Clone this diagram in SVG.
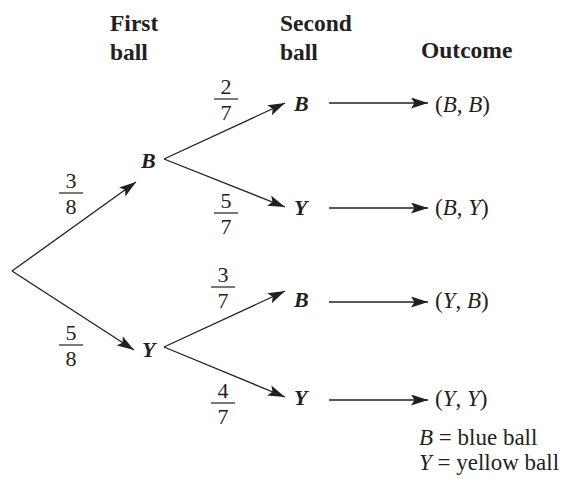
<svg xmlns="http://www.w3.org/2000/svg" width="564" height="479" viewBox="0 0 564 479">
<defs>
<style>
text{font-family:"Liberation Serif","Times New Roman",serif;fill:#231f20}
.h{font-weight:bold;font-size:23.5px}
.n{font-weight:bold;font-style:italic;font-size:22px}
.f{font-size:22px;text-anchor:middle}
.o{font-size:23px}
.l{fill:none;stroke:#231f20;stroke-width:1.3}
.bar{stroke:#231f20;stroke-width:1.2}
</style>
<marker id="ah" markerUnits="userSpaceOnUse" markerWidth="18" markerHeight="12" refX="17" refY="5.5" orient="auto">
<path d="M0,0 L17,5.5 L0,11 L3.5,5.5 z" fill="#231f20"/>
</marker>
</defs>
<g id="headers">
<text class="h" x="110" y="31">First</text>
<text class="h" x="110" y="60">ball</text>
<text class="h" x="280" y="31">Second</text>
<text class="h" x="280" y="60">ball</text>
<text class="h" x="421" y="58">Outcome</text>
</g>
<g id="connectors">
<line class="l" x1="12" y1="271" x2="136" y2="182" marker-end="url(#ah)"/>
<line class="l" x1="12" y1="271" x2="134" y2="350" marker-end="url(#ah)"/>
<line class="l" x1="164" y1="159" x2="285" y2="103" marker-end="url(#ah)"/>
<line class="l" x1="164" y1="159" x2="285" y2="207" marker-end="url(#ah)"/>
<line class="l" x1="164" y1="347" x2="285" y2="291" marker-end="url(#ah)"/>
<line class="l" x1="164" y1="347" x2="285" y2="397" marker-end="url(#ah)"/>
<line class="l" x1="329" y1="103" x2="428" y2="103" marker-end="url(#ah)"/>
<line class="l" x1="329" y1="208" x2="428" y2="208" marker-end="url(#ah)"/>
<line class="l" x1="329" y1="302" x2="428" y2="302" marker-end="url(#ah)"/>
<line class="l" x1="329" y1="400" x2="428" y2="400" marker-end="url(#ah)"/>
</g>
<g id="prob-3-8"><text class="f" x="71" y="188">3</text><line class="bar" x1="59" y1="193" x2="83" y2="193"/><text class="f" x="71" y="214">8</text></g>
<g id="prob-5-8"><text class="f" x="71" y="340">5</text><line class="bar" x1="59" y1="345" x2="83" y2="345"/><text class="f" x="71" y="366">8</text></g>
<g id="prob-2-7"><text class="f" x="226" y="94">2</text><line class="bar" x1="214" y1="99" x2="238" y2="99"/><text class="f" x="226" y="120">7</text></g>
<g id="prob-5-7"><text class="f" x="226" y="208">5</text><line class="bar" x1="214" y1="213" x2="238" y2="213"/><text class="f" x="226" y="234">7</text></g>
<g id="prob-3-7"><text class="f" x="223" y="282">3</text><line class="bar" x1="211" y1="287" x2="235" y2="287"/><text class="f" x="223" y="308">7</text></g>
<g id="prob-4-7"><text class="f" x="223" y="398">4</text><line class="bar" x1="211" y1="403" x2="235" y2="403"/><text class="f" x="223" y="424">7</text></g>
<g id="node-B1"><text class="n" x="141" y="168">B</text></g>
<g id="node-Y1"><text class="n" x="142" y="357">Y</text></g>
<g id="node-BB"><text class="n" x="294" y="111">B</text></g>
<g id="node-BY"><text class="n" x="294" y="215">Y</text></g>
<g id="node-YB"><text class="n" x="294" y="307">B</text></g>
<g id="node-YY"><text class="n" x="294" y="405">Y</text></g>
<g id="out-BB"><text class="o" x="435" y="112">(<tspan font-style="italic">B</tspan>, <tspan font-style="italic">B</tspan>)</text></g>
<g id="out-BY"><text class="o" x="435" y="215">(<tspan font-style="italic">B</tspan>, <tspan font-style="italic">Y</tspan>)</text></g>
<g id="out-YB"><text class="o" x="435" y="308">(<tspan font-style="italic">Y</tspan>, <tspan font-style="italic">B</tspan>)</text></g>
<g id="out-YY"><text class="o" x="435" y="406">(<tspan font-style="italic">Y</tspan>, <tspan font-style="italic">Y</tspan>)</text></g>
<g id="legend">
<text class="o" x="419" y="445"><tspan font-style="italic">B</tspan> = blue ball</text>
<text class="o" x="419" y="470"><tspan font-style="italic">Y</tspan> = yellow ball</text>
</g>
</svg>
